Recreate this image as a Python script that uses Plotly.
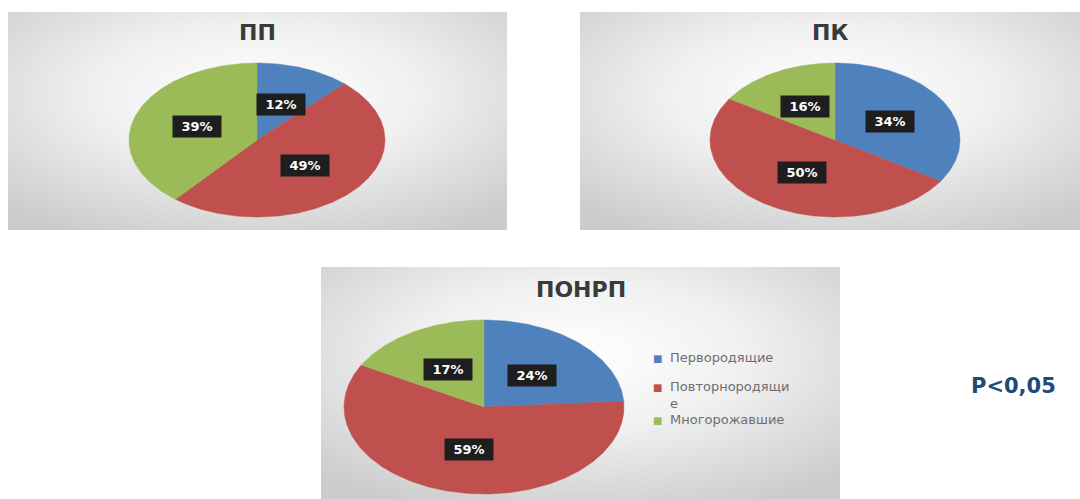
import base64
import numpy as np
import plotly.graph_objects as go

# ---------------- data ----------------
categories = ["Первородящие", "Повторнородящие", "Многорожавшие"]
chart_titles = ["ПП", "ПК", "ПОНРП"]
values_pp = [12, 49, 39]
values_pk = [34, 50, 16]
values_ponrp = [24, 59, 17]
significance_text = "P<0,05"

# ---------------- styles / layout ----------------
W, H = 1080, 499
colors = ["#4F81BD", "#C0504D", "#9BBB59"]
title_color = "#3A3A3A"
label_bg = "#1E1E1E"
FONT = "DejaVu Sans"

# panel boxes (x0, y0, x1, y1) in px, pie centre/radii (cx, cy, rx, ry) in px
panels = [
    dict(values=values_pp, title=chart_titles[0], box=(8, 12, 507, 230), pie=(257, 140, 128, 77), title_y=33),
    dict(values=values_pk, title=chart_titles[1], box=(580, 12, 1080, 230), pie=(835, 140, 125, 77), title_y=33),
    dict(values=values_ponrp, title=chart_titles[2], box=(321, 267, 840, 499), pie=(484, 407, 140, 87), title_y=289),
]
LABEL_R = 0.5
PAD = 1.02

svg = (
    "<svg xmlns='http://www.w3.org/2000/svg' width='500' height='220' preserveAspectRatio='none'>"
    "<defs><radialGradient id='g' cx='50%' cy='38%' r='72%'>"
    "<stop offset='0' stop-color='#ffffff'/>"
    "<stop offset='0.45' stop-color='#f0f0f0'/>"
    "<stop offset='1' stop-color='#cccccc'/>"
    "</radialGradient></defs>"
    "<rect width='100%' height='100%' fill='url(#g)'/></svg>"
)
svg_uri = "data:image/svg+xml;base64," + base64.b64encode(svg.encode()).decode()

fig = go.Figure()
annotations = []
images = []
layout_axes = {}

for i, p in enumerate(panels, start=1):
    xa = "x" if i == 1 else f"x{i}"
    ya = "y" if i == 1 else f"y{i}"
    cx, cy, rx, ry = p["pie"]
    layout_axes["xaxis" if i == 1 else f"xaxis{i}"] = dict(
        domain=[(cx - rx * PAD) / W, (cx + rx * PAD) / W],
        range=[-PAD, PAD], visible=False, fixedrange=True, anchor=ya)
    layout_axes["yaxis" if i == 1 else f"yaxis{i}"] = dict(
        domain=[1 - (cy + ry * PAD) / H, 1 - (cy - ry * PAD) / H],
        range=[-PAD, PAD], visible=False, fixedrange=True, anchor=xa)

    vals = p["values"]
    total = float(sum(vals))
    start = 0.0
    for k, v in enumerate(vals):
        a0 = 2 * np.pi * start / total
        a1 = 2 * np.pi * (start + v) / total
        n = max(3, int((a1 - a0) * 60))
        t = np.linspace(a0, a1, n)
        xs = np.concatenate([[0], np.sin(t), [0]])
        ys = np.concatenate([[0], np.cos(t), [0]])
        fig.add_trace(go.Scatter(
            x=xs, y=ys, xaxis=xa, yaxis=ya, mode="lines", fill="toself",
            fillcolor=colors[k], line=dict(color=colors[k], width=0.5),
            name=categories[k], showlegend=False, hoverinfo="skip"))
        mid = (a0 + a1) / 2
        annotations.append(dict(
            x=LABEL_R * np.sin(mid), y=LABEL_R * np.cos(mid), xref=xa, yref=ya,
            text=f"{v}%", showarrow=False, bgcolor=label_bg, borderpad=2,
            width=44, height=17,
            font=dict(family=FONT, size=13, color="white", weight="bold")))
        start += v

    x0, y0, x1, y1 = p["box"]
    images.append(dict(source=svg_uri, xref="paper", yref="paper",
                       x=x0 / W, y=1 - y0 / H, sizex=(x1 - x0) / W, sizey=(y1 - y0) / H,
                       xanchor="left", yanchor="top", sizing="stretch", layer="below"))
    annotations.append(dict(
        x=(x0 + x1) / 2 / W, y=1 - p["title_y"] / H, xref="paper", yref="paper",
        text=p["title"], showarrow=False, xanchor="center", yanchor="middle",
        font=dict(family=FONT, size=22, color=title_color, weight="bold")))

# legend (third chart)
legend_marker_x, legend_text_x = 657, 669
legend_first_line_y = [358, 387, 420]
WRAP = 14
for k, name in enumerate(categories):
    lines = [name[j:j + WRAP] for j in range(0, len(name), WRAP)]
    yc = legend_first_line_y[k]
    annotations.append(dict(
        x=legend_marker_x / W, y=1 - yc / H, xref="paper", yref="paper",
        text="■", showarrow=False, xanchor="center", yanchor="middle",
        font=dict(family=FONT, size=10, color=colors[k])))
    annotations.append(dict(
        x=legend_text_x / W, y=1 - (yc - 9) / H, xref="paper", yref="paper",
        text="<br>".join(lines), showarrow=False, xanchor="left", yanchor="top",
        align="left", borderpad=0,
        font=dict(family=FONT, size=13, color="#6E6E6E")))

annotations.append(dict(
    x=1013 / W, y=1 - 386 / H, xref="paper", yref="paper", text=significance_text,
    showarrow=False, xanchor="center", yanchor="middle",
    font=dict(family=FONT, size=21, color="#1F497D", weight="bold")))

fig.update_layout(
    width=W, height=H, margin=dict(l=0, r=0, t=0, b=0),
    paper_bgcolor="white", plot_bgcolor="rgba(0,0,0,0)",
    showlegend=False, annotations=annotations, images=images,
    **layout_axes)

fig.write_html("out.html", config={"displayModeBar": False})
